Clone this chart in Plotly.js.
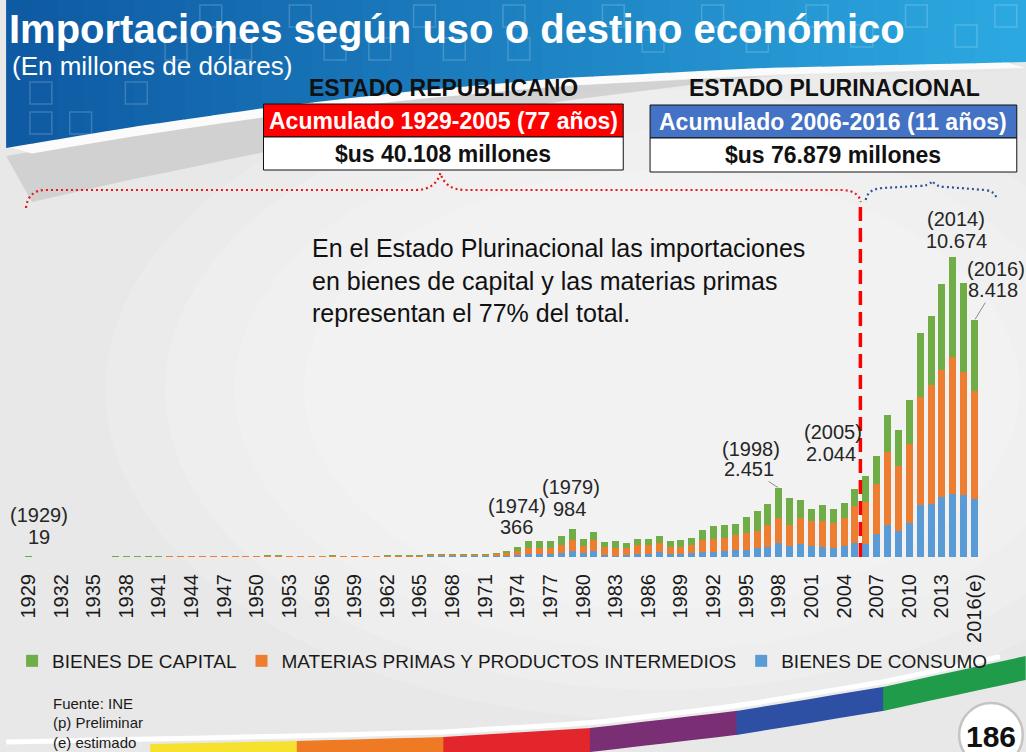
<!DOCTYPE html>
<html>
<head>
<meta charset="utf-8">
<script src="https://cdn.plot.ly/plotly-3.0.1.min.js"></script>
<style>
  html, body { margin: 0; padding: 0; background: #ececec; }
  #chart { width: 1026px; height: 752px; }
</style>
</head>
<body>
<div id="chart"></div>
<script>
"use strict";

// years 1929 - 2016 (2016 estimated)
const years = [1929, 1930, 1931, 1932, 1933, 1934, 1935, 1936, 1937, 1938,
    1939, 1940, 1941, 1942, 1943, 1944, 1945, 1946, 1947, 1948,
    1949, 1950, 1951, 1952, 1953, 1954, 1955, 1956, 1957, 1958,
    1959, 1960, 1961, 1962, 1963, 1964, 1965, 1966, 1967, 1968,
    1969, 1970, 1971, 1972, 1973, 1974, 1975, 1976, 1977, 1978,
    1979, 1980, 1981, 1982, 1983, 1984, 1985, 1986, 1987, 1988,
    1989, 1990, 1991, 1992, 1993, 1994, 1995, 1996, 1997, 1998,
    1999, 2000, 2001, 2002, 2003, 2004, 2005, 2006, 2007, 2008,
    2009, 2010, 2011, 2012, 2013, 2014, 2015, 2016];

// millones de dolares
const consumo = [4, 4, 3, 2, 2, 3, 4, 3, 4, 4,
    4, 5, 5, 6, 7, 7, 8, 9, 10, 10,
    11, 9, 11, 12, 10, 10, 11, 11, 12, 10,
    9, 10, 11, 13, 14, 14, 16, 18, 19, 20,
    21, 20, 22, 30, 40, 71, 107, 118, 112, 154,
    201, 142, 213, 59, 47, 71, 107, 107, 166, 95,
    118, 142, 190, 190, 213, 261, 261, 320, 367, 498,
    403, 450, 403, 367, 332, 391, 498, 473, 827, 1123,
    922, 1194, 1832, 1891, 2128, 2246, 2210, 2069];

const materias = [9, 8, 6, 5, 5, 7, 8, 8, 9, 10,
    9, 11, 12, 15, 16, 18, 18, 21, 24, 25,
    25, 22, 27, 27, 23, 24, 25, 24, 25, 23,
    21, 22, 24, 30, 32, 33, 36, 41, 44, 44,
    47, 46, 48, 68, 95, 142, 225, 213, 220, 273,
    403, 237, 379, 296, 284, 237, 320, 308, 344, 261,
    249, 273, 403, 462, 474, 521, 604, 604, 758, 877,
    747, 936, 877, 912, 889, 995, 1315, 1489, 1773, 2612,
    2329, 2837, 3853, 4232, 4527, 4858, 4362, 3818];

const capital = [6, 5, 4, 3, 4, 5, 5, 5, 5, 6,
    6, 6, 8, 9, 9, 10, 11, 12, 14, 15,
    16, 14, 17, 17, 14, 16, 17, 17, 18, 17,
    15, 16, 17, 23, 24, 25, 28, 33, 35, 36,
    37, 38, 40, 57, 80, 153, 225, 249, 250, 320,
    380, 273, 308, 190, 225, 178, 225, 237, 225, 225,
    237, 261, 367, 450, 462, 403, 557, 699, 758, 1076,
    936, 628, 415, 557, 474, 521, 616, 934, 981, 1324,
    1277, 1560, 2269, 2447, 3050, 3570, 3180, 2531];

const tickYears = [1929, 1932, 1935, 1938, 1941, 1944, 1947, 1950, 1953, 1956,
    1959, 1962, 1965, 1968, 1971, 1974, 1977, 1980, 1983, 1986,
    1989, 1992, 1995, 1998, 2001, 2004, 2007, 2010, 2013, 2016];
const tickText = ['1929', '1932', '1935', '1938', '1941', '1944', '1947', '1950', '1953', '1956',
    '1959', '1962', '1965', '1968', '1971', '1974', '1977', '1980', '1983', '1986',
    '1989', '1992', '1995', '1998', '2001', '2004', '2007', '2010', '2013', '2016(e)'];

// labelled years and the figure printed above them
const peakYears = [1929, 1974, 1979, 1998, 2005, 2014, 2016];
const peakText = ['19', '366', '984', '2.451', '2.044', '10.674', '8.418'];

// page geometry (pixels)
const W = 1026, H = 752;
const M = {l: 17, r: 46, t: 220, b: 195};
const PW = W - M.l - M.r;
const PH = H - M.t - M.b;
const BASE = H - M.b;
const PX_PER_MILLION = 0.02813;
const FONT = 'Liberation Sans, Arial, sans-serif';

// pixel -> paper helpers for the decorations
function fx(x) { return (x - M.l) / PW; }
function fy(y) { return (BASE - y) / PH; }

function toPath(cmds) {
    let s = '';
    cmds.forEach(c => {
        s += c[0];
        for (let i = 1; i < c.length; i += 2) {
            s += ' ' + fx(c[i]).toFixed(5) + ',' + fy(c[i + 1]).toFixed(5);
        }
        s += ' ';
    });
    return s.trim();
}

function fillShape(cmds, color, opacity) {
    return {type: 'path', xref: 'paper', yref: 'paper', layer: 'below',
        path: toPath(cmds), fillcolor: color, opacity: opacity || 1,
        line: {width: 0}};
}

function lineShape(cmds, color, width, dash, layer) {
    return {type: 'path', xref: 'paper', yref: 'paper', layer: layer || 'below',
        path: toPath(cmds), line: {color: color, width: width, dash: dash || 'solid'}};
}

function rectShape(x0, y0, x1, y1, fill, lineColor) {
    return {type: 'rect', xref: 'paper', yref: 'paper', layer: 'above',
        x0: fx(x0), x1: fx(x1), y0: fy(y1), y1: fy(y0),
        fillcolor: fill, line: {color: lineColor || fill, width: 1}};
}

function interp(pts, x) {
    for (let i = 1; i < pts.length; i++) {
        if (x <= pts[i][0]) {
            const t = (x - pts[i - 1][0]) / (pts[i][0] - pts[i - 1][0]);
            return pts[i - 1][1] + t * (pts[i][1] - pts[i - 1][1]);
        }
    }
    return pts[pts.length - 1][1];
}

function mix(c0, c1, t) {
    const c = c0.map((v, i) => Math.round(v + (c1[i] - v) * t));
    return 'rgb(' + c.join(',') + ')';
}

let shapes = [];

// soft light patch in the middle of the slide
[[560, 330, 0.16], [500, 300, 0.16], [430, 260, 0.16], [360, 220, 0.18]].forEach(e => {
    shapes.push({type: 'circle', xref: 'paper', yref: 'paper', layer: 'below',
        x0: fx(660 - e[0]), x1: fx(660 + e[0]), y0: fy(390 + e[1]), y1: fy(390 - e[1]),
        fillcolor: '#ffffff', opacity: e[2], line: {width: 0}});
});

// header band: grey shadow, white swoosh, blue gradient
const bandEdge = [[0, 148], [120, 128], [260, 108], [400, 92], [560, 78], [760, 68], [1026, 62]];
const shadowDepth = [[0, 52], [200, 40], [400, 26], [600, 12], [760, 0], [1026, 0]];
let shadow = [['M', 0, interp(bandEdge, 0) + 8]];
for (let x = 50; x <= 1026; x += 50) shadow.push(['L', x, interp(bandEdge, x) + 8]);
for (let x = 1026; x >= 0; x -= 50) shadow.push(['L', x, interp(bandEdge, x) + 8 + interp(shadowDepth, x)]);
shadow.push(['Z']);
shapes.push(fillShape(shadow, '#c9c9c9', 0.75));

let swoosh = [['M', 0, interp(bandEdge, 0) - 2]];
for (let x = 50; x <= 1026; x += 50) swoosh.push(['L', x, interp(bandEdge, x) - 2]);
for (let x = 1026; x >= 0; x -= 50) swoosh.push(['L', x, interp(bandEdge, x) + 10 - x / 250]);
swoosh.push(['Z']);
shapes.push(fillShape(swoosh, '#fbfbfb'));

const nStrips = 40;
for (let i = 0; i < nStrips; i++) {
    const x0 = i * W / nStrips, x1 = x0 + W / nStrips + 1;
    shapes.push(fillShape([['M', x0, 0], ['L', x1, 0], ['L', x1, interp(bandEdge, x1)],
        ['L', x0, interp(bandEdge, x0)], ['Z']],
        mix([14, 90, 163], [44, 168, 224], i / (nStrips - 1))));
}

// faint squares in the header
const squares = [[24, 82], [64, 112], [24, 112], [120, 82], [160, 38], [225, 38], [195, 5],
    [285, 5], [320, 38], [365, 38], [410, 5], [440, 38], [500, 5], [505, 38], [600, 5],
    [640, 30], [700, 5], [745, 30], [805, 5], [850, 25], [905, 5], [955, 25], [995, 5]];
squares.forEach(s => {
    shapes.push({type: 'rect', xref: 'paper', yref: 'paper', layer: 'below',
        x0: fx(s[0]), x1: fx(s[0] + 22), y0: fy(s[1] + 22), y1: fy(s[1]),
        line: {color: 'rgba(255,255,255,0.18)', width: 1.5}});
});

// rainbow ribbon at the bottom
const ribbonTop = [[0, 747], [145, 744], [292, 741], [440, 737], [588, 728], [735, 711], [882, 687], [1026, 656]];
const ribbonColors = ['#f6e22e', '#ee7b23', '#e3262c', '#7a2e74', '#2e50a4', '#1f9b4a'];
let glow = [['M', 0, interp(ribbonTop, 0) - 5]];
for (let x = 40; x <= 1026; x += 40) glow.push(['L', x, interp(ribbonTop, x) - 5]);
shapes.push(lineShape(glow, '#ffffff', 5));
ribbonColors.forEach((c, i) => {
    const x0 = 145 + i * 147.5, x1 = Math.min(x0 + 148.5, 1026);
    let seg = [['M', x0, interp(ribbonTop, x0)]];
    for (let k = 1; k <= 6; k++) {
        const x = x0 + (x1 - x0) * k / 6;
        seg.push(['L', x, interp(ribbonTop, x)]);
    }
    for (let k = 6; k >= 0; k--) {
        const x = x0 + (x1 - x0) * k / 6;
        seg.push(['L', x, interp(ribbonTop, x) + 24]);
    }
    seg.push(['Z']);
    shapes.push(fillShape(seg, c));
});

// page number disc
shapes.push({type: 'circle', xref: 'paper', yref: 'paper', layer: 'above',
    x0: fx(959), x1: fx(1023), y0: fy(767), y1: fy(703),
    fillcolor: '#ffffff', line: {color: '#c4c4c4', width: 2.5}});

// summary boxes
shapes.push(rectShape(259, 104, 621, 137, '#ff0000', '#111111'));
shapes.push(rectShape(259, 137, 621, 170, '#ffffff', '#111111'));
shapes.push(rectShape(648, 105, 1017, 138, '#4472c4', '#111111'));
shapes.push(rectShape(648, 138, 1017, 172, '#ffffff', '#111111'));

// braces over the two periods
shapes.push(lineShape([['M', 20, 208], ['Q', 22, 190, 40, 190], ['L', 412, 190],
    ['Q', 432, 190, 437, 173], ['Q', 442, 190, 462, 190], ['L', 842, 190],
    ['Q', 858, 191, 860, 202]], '#e8161b', 2.2, '2px,3px', 'above'));
shapes.push(lineShape([['M', 865, 200], ['Q', 867, 189, 882, 188], ['L', 918, 186],
    ['Q', 929, 186, 932, 181], ['Q', 936, 187, 946, 187], ['L', 985, 190],
    ['Q', 995, 191, 997, 199]], '#2f5597', 2.2, '2px,3px', 'above'));

// dividing line between 2005 and 2006
shapes.push({type: 'line', xref: 'x', yref: 'paper', layer: 'above',
    x0: 2005.5, x1: 2005.5, y0: 0, y1: fy(203),
    line: {color: '#ff0000', width: 3.5, dash: '14px,7px'}});

// text
function note(text, x, y, size, color, anchor, bold) {
    return {xref: 'paper', yref: 'paper', x: fx(x), y: fy(y), showarrow: false,
        xanchor: anchor || 'center', yanchor: 'middle',
        text: bold ? '<b>' + text + '</b>' : text,
        font: {family: FONT, size: size, color: color}};
}

let annotations = [
    note('Importaciones según uso o destino económico', 1, 29, 40, '#ffffff', 'left', true),
    note('(En millones de dólares)', 4, 66, 26, '#ffffff', 'left'),
    note('ESTADO REPUBLICANO', 440, 88, 23, '#111111', 'center', true),
    note('ESTADO PLURINACIONAL', 834, 88, 23, '#111111', 'center', true),
    note('Acumulado 1929-2005 (77 años)', 440, 121, 23, '#ffffff', 'center', true),
    note('$us 40.108 millones', 440, 154, 23, '#111111', 'center', true),
    note('Acumulado 2006-2016 (11 años)', 832, 122, 23, '#ffffff', 'center', true),
    note('$us 76.879 millones', 832, 155, 23, '#111111', 'center', true),
    note('En el Estado Plurinacional las importaciones', 306, 248, 25, '#111111', 'left'),
    note('en bienes de capital y las materias primas', 306, 281, 25, '#111111', 'left'),
    note('representan el 77% del total.', 306, 313, 25, '#111111', 'left'),
    note('Fuente: INE', 45, 703, 15, '#1a1a1a', 'left'),
    note('(p) Preliminar', 45, 722, 15, '#1a1a1a', 'left'),
    note('(e) estimado', 45, 742, 15, '#1a1a1a', 'left'),
    note('186', 991, 736, 30, '#111111', 'center', true)
];

// pixel centres of the "(year)" line and the value line of each peak label,
// and whether the value has a leader line to its bar
const peakLabelPos = [
    [33, 515, 33, 537, false], [514, 506, 514, 527, false], [568, 487, 567, 509, false],
    [750, 449, 748, 469, true], [832, 432, 830, 454, false],
    [956, 219, 956, 241, false], [996, 269, 993, 290, true]];
peakYears.forEach((yr, i) => {
    const idx = years.indexOf(yr);
    const total = consumo[idx] + materias[idx] + capital[idx];
    const barX = M.l + (yr - 1928.5) * PW / years.length;
    const barY = BASE - total * PX_PER_MILLION;
    const pos = peakLabelPos[i];
    const label = {xref: 'x', yref: 'y', x: yr, y: total,
        showarrow: true, arrowhead: 0, arrowwidth: 1, standoff: 1,
        arrowcolor: 'rgba(0,0,0,0)',
        font: {family: FONT, size: 20, color: '#262626'}};
    annotations.push(Object.assign({}, label, {
        text: '(' + yr + ')', ax: pos[0] - barX, ay: pos[1] - barY}));
    annotations.push(Object.assign({}, label, {
        text: peakText[i], ax: pos[2] - barX, ay: pos[3] - barY,
        arrowcolor: pos[4] ? '#8a8a8a' : 'rgba(0,0,0,0)'}));
});

const data = [
    {type: 'bar', name: 'BIENES DE CONSUMO', x: years, y: consumo,
        marker: {color: '#5b9bd5'}},
    {type: 'bar', name: 'MATERIAS PRIMAS Y PRODUCTOS INTERMEDIOS', x: years, y: materias,
        marker: {color: '#ed7d31'}},
    {type: 'bar', name: 'BIENES DE CAPITAL', x: years, y: capital,
        marker: {color: '#70ad47'}}
];

const layout = {
    width: W, height: H,
    margin: {l: M.l, r: M.r, t: M.t, b: M.b, pad: 0},
    paper_bgcolor: '#e8e8e8',
    plot_bgcolor: 'rgba(0,0,0,0)',
    barmode: 'stack',
    bargap: 0.36,
    font: {family: FONT, color: '#1a1a1a'},
    xaxis: {
        type: 'linear', range: [1928.5, 2016.5],
        tickmode: 'array', tickvals: tickYears, ticktext: tickText,
        tickangle: -90, tickfont: {family: FONT, size: 20, color: '#1a1a1a'},
        ticks: '', ticklabelstandoff: 12,
        showgrid: false, zeroline: false, showline: false
    },
    yaxis: {
        range: [0, PH / PX_PER_MILLION],
        visible: false, showgrid: false, zeroline: false
    },
    showlegend: true,
    legend: {
        orientation: 'h', traceorder: 'reversed',
        x: fx(6), xanchor: 'left', y: fy(661), yanchor: 'middle',
        bgcolor: 'rgba(0,0,0,0)',
        font: {family: FONT, size: 19, color: '#1a1a1a'}
    },
    shapes: shapes,
    annotations: annotations
};

Plotly.newPlot('chart', data, layout, {staticPlot: true, displayModeBar: false});
</script>
</body>
</html>
